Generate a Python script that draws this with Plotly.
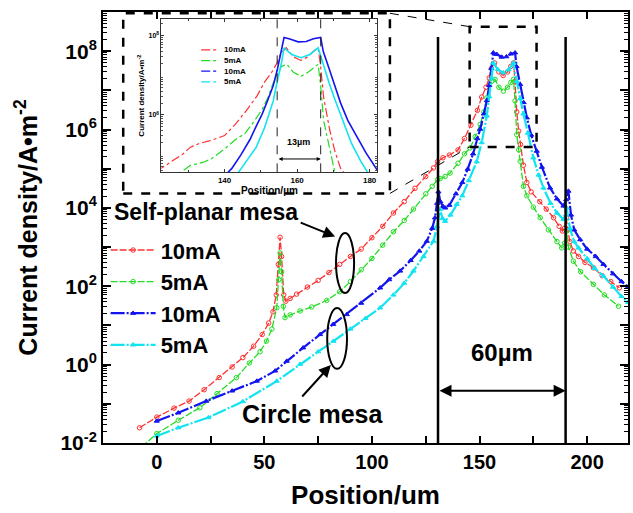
import numpy as np
import plotly.graph_objects as go

FONT = "Liberation Sans, Arial, sans-serif"

# Position (um) and current density readings, stored as log10(A·m^-2)
# Self-planar mesa, 10 mA
sp10_x = [-8, 0, 8, 15, 22, 29, 35, 40, 45, 49,
          52, 54, 55.5, 56.5, 57.3, 58, 59, 60, 62, 65,
          70, 75, 80, 85, 90, 95, 100, 105, 110, 115,
          120, 125, 128.6, 130.5, 133, 136, 140, 143, 146, 149,
          151, 153, 154.5, 155.5, 157, 159, 161, 163, 164.5, 165.8,
          166.5, 167.3, 168.2, 169, 170.4, 172, 174, 178, 181, 184.4,
          187, 188.5, 189.5, 190.3, 191, 192, 193.6, 196, 199, 203,
          207, 211, 215]
sp10_log = [-1.61, -1.34, -1.11, -0.93, -0.64, -0.33, -0.06, 0.18, 0.47, 0.77,
            1.06, 1.35, 1.78, 2.56, 3.25, 2.76, 1.78, 1.62, 1.69, 1.80,
            1.98, 2.15, 2.35, 2.56, 2.76, 2.95, 3.24, 3.53, 3.87, 4.16,
            4.50, 4.80, 5.02, 5.18, 5.28, 5.35, 5.48, 5.77, 6.11, 6.49,
            6.83, 7.08, 7.32, 7.56, 7.70, 7.47, 7.38, 7.47, 7.61, 7.70,
            7.22, 6.45, 5.96, 5.62, 5.09, 4.65, 4.41, 4.16, 3.97, 3.75,
            3.53, 3.41, 3.48, 3.75, 3.44, 3.14, 2.90, 2.76, 2.61, 2.47,
            2.27, 2.12, 1.96]

# Self-planar mesa, 5 mA
sp5_x = [-7, 0, 10, 20, 28, 37, 43, 48, 51, 53.5,
         55.75, 56.7, 57.3, 58, 58.8, 59.6, 62, 66.6, 72, 79,
         85, 90, 95, 100, 105, 110, 115, 119.3, 125, 128,
         130.5, 131.7, 134, 136.3, 140, 143, 145.6, 148, 150.3, 152,
         153.4, 155.7, 157.2, 159, 161.1, 163, 164.5, 165.8, 166.5, 167.3,
         168.2, 168.9, 170.4, 172, 175, 178.2, 182, 186, 188.2, 189.5,
         190.5, 191.3, 193.6, 197, 202.9, 208, 214.6]
sp5_log = [-2.10, -1.76, -1.42, -1.10, -0.74, -0.33, 0.04, 0.33, 0.60, 0.91,
           1.45, 2.17, 2.85, 2.37, 1.49, 1.20, 1.27, 1.37, 1.47, 1.64,
           1.86, 2.12, 2.42, 2.71, 3.05, 3.39, 3.68, 3.97, 4.36, 4.55,
           4.72, 4.75, 4.80, 4.89, 5.14, 5.38, 5.53, 5.82, 6.13, 6.45,
           6.81, 7.23, 7.28, 7.08, 6.98, 7.08, 7.20, 7.28, 6.73, 5.87,
           5.48, 5.19, 4.55, 4.31, 4.02, 3.75, 3.44, 3.14, 2.98, 3.10,
           3.41, 3.00, 2.64, 2.37, 2.05, 1.78, 1.49]

# Circle mesa, 10 mA
cm10_x = [0, 10, 23, 35, 46.5, 55, 60.4, 68, 75.9, 82,
          88.3, 95, 103.8, 108, 113.1, 118, 122, 125.5, 128, 129.3,
          130.3, 130.9, 131.8, 133, 134, 136, 139, 142, 144.5, 147,
          149, 150.3, 152, 153.4, 154.5, 155.5, 156.4, 158, 160.3, 162.5,
          164.5, 166.5, 167.2, 168.9, 170.5, 172, 174, 176.6, 179, 182.8,
          186, 189, 190.3, 191.3, 192.5, 194, 196.8, 200, 204, 207.6,
          212, 216, 219]
cm10_log = [-1.44, -1.23, -0.93, -0.67, -0.42, -0.16, 0.09, 0.43, 0.77, 1.03,
            1.28, 1.57, 1.96, 2.17, 2.39, 2.66, 2.90, 3.15, 3.48, 3.75,
            4.12, 4.41, 4.16, 4.04, 4.00, 4.07, 4.36, 4.65, 4.99, 5.38,
            5.77, 6.01, 6.40, 6.74, 7.13, 7.56, 7.96, 7.92, 7.85, 7.86,
            7.93, 7.96, 7.61, 7.15, 6.69, 6.30, 5.86, 5.45, 5.04, 4.51,
            4.23, 4.05, 4.21, 4.43, 3.82, 3.44, 3.19, 2.95, 2.76, 2.56,
            2.32, 2.12, 1.98]

# Circle mesa, 5 mA
cm5_x = [0, 10, 24, 40, 55.75, 66.6, 75, 82.1, 90, 97,
         103.8, 110, 115, 119.3, 124, 128.6, 130.2, 131.7, 132.8, 134,
         136.5, 139.4, 142, 145, 148.7, 151, 153.4, 154.5, 155.7, 156.4,
         158.5, 161.1, 163.5, 165.8, 167.3, 168.9, 170.4, 172.5, 175, 177.5,
         179.7, 183, 186, 189, 190.5, 192, 194, 196, 200, 203.5,
         207.6, 212, 216, 219]
cm5_log = [-1.82, -1.61, -1.35, -0.94, -0.42, 0.01, 0.33, 0.60, 0.91, 1.18,
           1.45, 1.78, 2.08, 2.39, 2.76, 3.15, 3.53, 3.96, 3.73, 3.66,
           3.82, 4.09, 4.31, 4.70, 5.18, 5.67, 6.35, 6.84, 7.32, 7.70,
           7.53, 7.45, 7.53, 7.70, 7.23, 6.79, 6.40, 5.91, 5.28, 4.84,
           4.51, 4.12, 3.87, 3.71, 4.00, 3.48, 3.14, 2.98, 2.71, 2.46,
           2.26, 1.98, 1.74, 1.59]

series_names = ["10mA", "5mA", "10mA", "5mA"]
series_colors = ["#ff3030", "#22dd22", "#1414f0", "#10e4f0"]
series_symbols = ["circle-open", "circle-open", "triangle-up", "triangle-up"]
series_dash = ["7px,2px", "7px,2px", "14px,2px,2px,2px", "14px,2px,2px,2px"]
series_width = [1.3, 1.3, 2.2, 2.2]
series_data = [(sp10_x, sp10_log), (sp5_x, sp5_log), (cm10_x, cm10_log), (cm5_x, cm5_log)]

y_tick_exp = list(range(-2, 9))
y_tick_text = [f"10<sup>{e}</sup>" if e % 2 == 0 else "" for e in y_tick_exp]

X_RANGE = [-25, 219]
Y_RANGE = [-2.0, 9.0]
INSET_X = [122.6, 182.1]
INSET_Y = [4.55, 8.43]

fig = go.Figure()

for name, (xs, lg), col, sym, dash, w in zip(series_names, series_data, series_colors,
                                              series_symbols, series_dash, series_width):
    j = 10.0 ** np.array(lg)
    fig.add_trace(go.Scatter(
        x=xs, y=j, name=name, mode="lines+markers",
        line=dict(color=col, width=w, dash=dash),
        marker=dict(symbol=sym, size=4.5, color=col, line=dict(color=col, width=1)),
        xaxis="x", yaxis="y",
    ))

# zoomed view of the emission window (keyed by its own small legend below)
inset_dash = ["dashdot", "dashdot", "solid", "solid"]
inset_width = [1.2, 1.2, 1.6, 1.6]
for (xs, lg), col, dash, w in zip(series_data, series_colors, inset_dash, inset_width):
    j = 10.0 ** np.array(lg)
    fig.add_trace(go.Scatter(
        x=xs, y=j, mode="lines", showlegend=False,
        line=dict(color=col, width=w, dash=dash),
        xaxis="x2", yaxis="y2",
    ))

bold = dict(family=FONT, color="black", weight="bold")

fig.update_layout(
    width=633, height=513,
    margin=dict(l=103, r=3, t=12, b=70),
    paper_bgcolor="white", plot_bgcolor="white",
    font=dict(family=FONT, color="black"),
    xaxis=dict(
        domain=[0, 1], anchor="y", range=X_RANGE,
        tickmode="array", tickvals=[0, 50, 100, 150, 200],
        ticks="inside", ticklen=7, tickwidth=1.5, tickcolor="black",
        minor=dict(tickmode="array", tickvals=[25, 75, 125, 175],
                   ticks="inside", ticklen=7, tickwidth=1.5, tickcolor="black"),
        showline=True, linewidth=2, linecolor="black", mirror="ticks",
        showgrid=False, zeroline=False,
        tickfont=dict(size=20, **bold),
        title=dict(text="Position/um", font=dict(size=26, **bold), standoff=14),
    ),
    yaxis=dict(
        domain=[0, 1], anchor="x", type="log", range=Y_RANGE,
        tickmode="array", tickvals=[10.0 ** e for e in y_tick_exp], ticktext=y_tick_text,
        ticks="inside", ticklen=8, tickwidth=1.5, tickcolor="black",
        minor=dict(tickmode="array",
                   tickvals=[m * 10.0 ** e for e in range(-2, 9) for m in range(2, 10)],
                   ticks="inside", ticklen=4, tickwidth=1, tickcolor="black"),
        showline=True, linewidth=2, linecolor="black", mirror="ticks",
        showgrid=False, zeroline=False,
        tickfont=dict(size=21, **bold),
        title=dict(text="Current density/A\u2022m<sup>-2</sup>", font=dict(size=25, **bold), standoff=16),
    ),
    xaxis2=dict(
        domain=[0.1114, 0.5224], anchor="y2", range=INSET_X,
        tickmode="array", tickvals=[140, 160, 180],
        ticks="inside", ticklen=3, tickwidth=1, tickcolor="#333",
        minor=dict(tickmode="array", tickvals=[130, 150, 170], ticks="inside", ticklen=2),
        showline=True, linewidth=1, linecolor="#333", mirror="ticks",
        showgrid=False, zeroline=False,
        tickfont=dict(size=8, **bold),
        title=dict(text="Position/\u00b5m", font=dict(size=10, **bold), standoff=1),
    ),
    yaxis2=dict(
        domain=[0.628, 0.984], anchor="x2", type="log", range=INSET_Y,
        tickmode="array", tickvals=[1e6, 1e8], ticktext=["10<sup>6</sup>", "10<sup>8</sup>"],
        ticks="inside", ticklen=3, tickwidth=1, tickcolor="#333",
        minor=dict(tickmode="array",
                   tickvals=[m * 10.0 ** e for e in range(4, 9) for m in range(2, 10)],
                   ticks="inside", ticklen=2, tickwidth=0.6, tickcolor="#555"),
        showline=True, linewidth=1, linecolor="#333", mirror="ticks",
        showgrid=False, zeroline=False,
        tickfont=dict(size=7, **bold),
        title=dict(text="Current density/A\u2022m<sup>-2</sup>", font=dict(size=8, **bold), standoff=2),
    ),
    legend=dict(
        x=0.005, y=0.496, xanchor="left", yanchor="top",
        bgcolor="rgba(0,0,0,0)", font=dict(size=22, **bold),
        itemwidth=45, tracegroupgap=0,
    ),
    showlegend=True,
)

line_black = dict(color="black", width=2.5)
shapes = [
    # mesa edges, 60 um apart
    dict(type="line", xref="x", yref="y domain", x0=130.7, x1=130.7, y0=0, y1=0.942, line=line_black),
    dict(type="line", xref="x", yref="y domain", x0=190.0, x1=190.0, y0=0, y1=0.942, line=line_black),
    # dashed frame around the inset
    dict(type="rect", xref="paper", yref="paper", x0=0.0385, x1=0.5465, y0=0.579, y1=0.997,
         line=dict(color="black", width=2.5, dash="dash")),
    # dashed frame around the zoomed window
    dict(type="rect", xref="x", yref="paper", x0=145.4, x1=176.5, y0=0.687, y1=0.966,
         line=dict(color="black", width=2.5, dash="dash")),
    # connectors between the two frames
    dict(type="line", xref="paper", yref="paper", x0=0.5465, y0=0.997, x1=0.698, y1=0.966,
         line=dict(color="black", width=1, dash="dash")),
    dict(type="line", xref="paper", yref="paper", x0=0.5465, y0=0.579, x1=0.698, y1=0.687,
         line=dict(color="black", width=1, dash="dash")),
    # ellipses marking each group of curves
    dict(type="circle", xref="x", yref="y domain", x0=83.3, x1=91.7, y0=0.348, y1=0.487,
         line=dict(color="black", width=2)),
    dict(type="circle", xref="x", yref="y domain", x0=79.2, x1=88.4, y0=0.172, y1=0.313,
         line=dict(color="black", width=2)),
    # 13 um window in the inset
    dict(type="line", xref="x2", yref="y2 domain", x0=154.5, x1=154.5, y0=0, y1=1,
         line=dict(color="#222", width=1, dash="dash")),
    dict(type="line", xref="x2", yref="y2 domain", x0=166.5, x1=166.5, y0=0, y1=1,
         line=dict(color="#222", width=1, dash="dash")),
]

annotations = [
    dict(text="Self-planar mesa", xref="paper", yref="paper", x=0.0165, y=0.537,
         xanchor="left", yanchor="middle", showarrow=False, font=dict(size=23, **bold)),
    dict(text="Circle mesa", xref="paper", yref="paper", x=0.538, y=0.067,
         xanchor="right", yanchor="middle", showarrow=False, font=dict(size=25, **bold)),
    dict(text="60\u00b5m", xref="x", yref="y domain", x=160.4, y=0.174,
         showarrow=False, font=dict(size=24, **bold)),
    dict(text="", xref="x", yref="y domain", x=190.0, y=0.121,
         axref="x", ayref="y domain", ax=130.7, ay=0.121,
         showarrow=True, arrowside="end+start", arrowhead=2, arrowsize=1.2,
         arrowwidth=2, arrowcolor="black"),
    dict(text="", xref="x", yref="y domain", x=82.9, y=0.479, ax=-36, ay=-14.5,
         showarrow=True, arrowhead=2, arrowsize=1.2, arrowwidth=2, arrowcolor="black"),
    dict(text="", xref="x", yref="y domain", x=80.9, y=0.181, ax=-30, ay=33,
         showarrow=True, arrowhead=2, arrowsize=1.2, arrowwidth=2, arrowcolor="black"),
    dict(text="13\u00b5m", xref="x2", yref="y2 domain", x=160.5, y=0.15,
         showarrow=False, font=dict(size=9, **bold)),
    dict(text="", xref="x2", yref="y2 domain", x=166.5, y=0.087,
         axref="x2", ayref="y2 domain", ax=154.5, ay=0.087,
         showarrow=True, arrowside="end+start", arrowhead=2, arrowsize=0.8,
         arrowwidth=1, arrowcolor="black"),
]

# compact key for the inset: short dash-dot sample followed by its label
inset_key_rows = [0.912, 0.887, 0.863, 0.838]
for name, col, yk in zip(series_names, series_colors, inset_key_rows):
    shapes.append(dict(type="line", xref="paper", yref="paper", x0=0.187, x1=0.219, y0=yk, y1=yk,
                       line=dict(color=col, width=1.3, dash="dashdot")))
    annotations.append(dict(text=name, xref="paper", yref="paper", x=0.227, y=yk,
                            xanchor="left", yanchor="middle", showarrow=False,
                            font=dict(size=8, **bold)))

fig.update_layout(shapes=shapes, annotations=annotations)

fig.write_html("out.html")
